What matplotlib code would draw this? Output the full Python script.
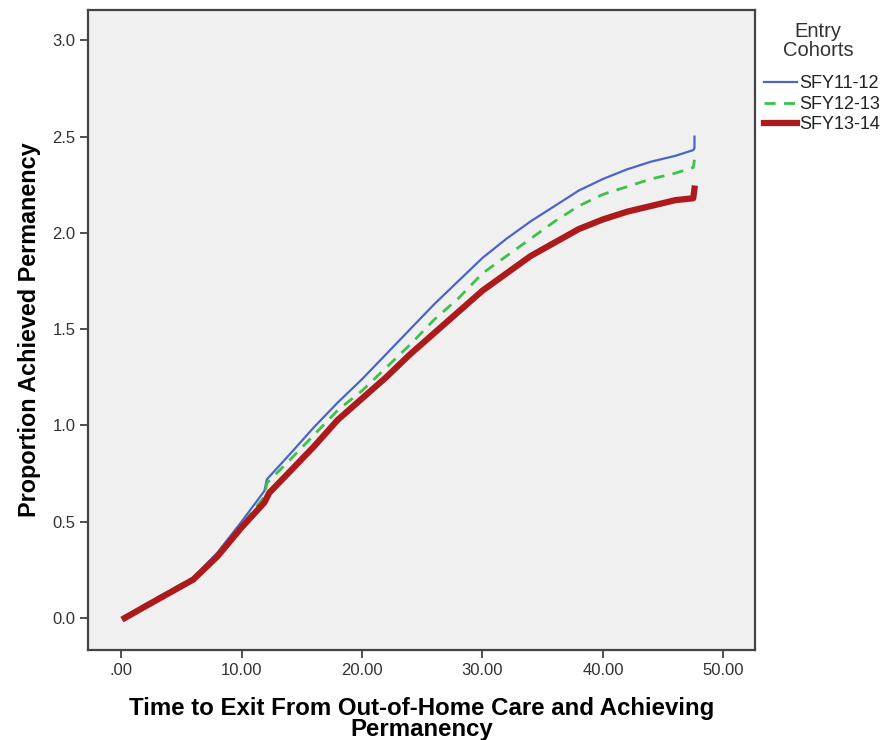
import matplotlib
matplotlib.use('Agg')
import matplotlib.pyplot as plt

plt.rcParams['font.family'] = ['Liberation Sans', 'DejaVu Sans']

# months since entry
t_blue = [0.3, 2, 4, 6, 8, 10, 11.9, 12.1, 14, 16, 18, 20, 22, 24, 26, 28, 30,
          32, 34, 36, 38, 40, 42, 44, 46, 47.5, 47.6, 47.6]
p_blue = [0.0, 0.07, 0.14, 0.21, 0.34, 0.50, 0.66, 0.72, 0.85, 0.99, 1.12, 1.24,
          1.37, 1.50, 1.63, 1.75, 1.87, 1.97, 2.06, 2.14, 2.22, 2.28, 2.33, 2.37,
          2.40, 2.43, 2.44, 2.50]

t_green = [0.3, 2, 4, 6, 8, 10, 11.9, 12.1, 14, 16, 18, 20, 22, 24, 26, 28, 30,
           32, 34, 36, 38, 40, 42, 44, 46, 47.5, 47.6]
p_green = [0.0, 0.07, 0.14, 0.21, 0.33, 0.48, 0.63, 0.70, 0.82, 0.95, 1.08, 1.18,
           1.30, 1.42, 1.55, 1.66, 1.79, 1.88, 1.97, 2.06, 2.14, 2.20, 2.24, 2.28,
           2.31, 2.34, 2.38]

t_red = [0.3, 2, 4, 6, 8, 10, 11.9, 12.3, 14, 16, 18, 20, 22, 24, 26, 28, 30,
         32, 34, 36, 38, 40, 42, 44, 46, 47.5, 47.6]
p_red = [0.0, 0.06, 0.13, 0.20, 0.32, 0.47, 0.60, 0.65, 0.76, 0.89, 1.03, 1.14,
         1.25, 1.37, 1.48, 1.59, 1.70, 1.79, 1.88, 1.95, 2.02, 2.07, 2.11, 2.14,
         2.17, 2.18, 2.23]

x_ticks = [0, 10, 20, 30, 40, 50]
x_labels = ['.00', '10.00', '20.00', '30.00', '40.00', '50.00']
y_ticks = [0.0, 0.5, 1.0, 1.5, 2.0, 2.5, 3.0]

fig = plt.figure(figsize=(8.83, 7.40), dpi=100)
ax = fig.add_axes([0.0997, 0.1216, 0.755, 0.865])
ax.set_facecolor('#f0f0f0')

ax.plot(t_blue, p_blue, color='#4a66c4', lw=1.6, label='SFY11-12')
ax.plot(t_green, p_green, color='#3cc24a', lw=2, ls=(0, (4, 3)), label='SFY12-13')
ax.plot(t_red, p_red, color='#ad1a1c', lw=4.5, label='SFY13-14')

ax.set_xlim(-2.74, 52.6)
ax.set_ylim(-0.166, 3.158)
ax.set_xticks(x_ticks)
ax.set_xticklabels(x_labels)
ax.set_yticks(y_ticks)
ax.set_yticklabels([f'{v:.1f}' for v in y_ticks])
ax.tick_params(direction='out', length=6, width=1.2, color='#333333',
               labelsize=12, labelcolor='#333333', pad=3)

for s in ax.spines.values():
    s.set_color('#444444')
    s.set_linewidth(1.6)

ax.set_xlabel('Time to Exit From Out-of-Home Care and Achieving\nPermanency',
              fontsize=17.3, fontweight='bold', linespacing=0.88, labelpad=14)
ax.set_ylabel('Proportion Achieved Permanency', fontsize=16.8, fontweight='bold',
              labelpad=8)

# legend title drawn separately so the gap to the entries matches
fig.text(818 / 883, 1 - 41 / 740, 'Entry\nCohorts', ha='center', va='center',
         fontsize=14.5, color='#333333', linespacing=0.95)
leg = ax.legend(loc='upper left', bbox_to_anchor=(1.0, 0.912), frameon=False,
                fontsize=13, handlelength=1.85, handletextpad=0.1,
                labelspacing=0.2, borderaxespad=0.2, borderpad=0.3)
for txt in leg.get_texts():
    txt.set_color('#222222')

fig.savefig('out.png', dpi=100, facecolor='white')
